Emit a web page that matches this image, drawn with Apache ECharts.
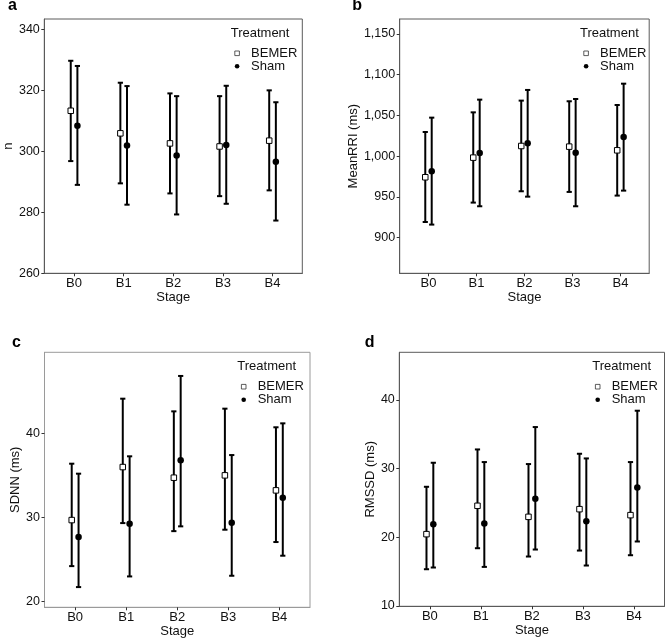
<!DOCTYPE html>
<html><head><meta charset="utf-8">
<script src="https://cdn.jsdelivr.net/npm/echarts@6/dist/echarts.min.js"></script>
<style>html,body{margin:0;padding:0;background:#fff}#c{width:669px;height:642px}</style>
</head><body><div id="c"></div><script>
// ---- data ----
const stages = ['B0', 'B1', 'B2', 'B3', 'B4'];
const treatments = ['BEMER', 'Sham'];

// panel a: n
const nBemerMean = [313.3, 305.9, 302.6, 301.6, 303.5];
const nBemerLo   = [296.8, 289.5, 286.2, 285.3, 287.2];
const nBemerHi   = [329.7, 322.5, 319.0, 318.1, 320.0];
const nShamMean  = [308.4, 301.9, 298.6, 302.1, 296.6];
const nShamLo    = [289.0, 282.5, 279.3, 282.8, 277.3];
const nShamHi    = [328.0, 321.4, 318.1, 321.5, 316.1];
const nTicks     = [260, 280, 300, 320, 340];

// panel b: MeanRRI (ms)
const rriBemerMean = [974.1, 998.2, 1012.5, 1011.7, 1007.2];
const rriBemerLo   = [919.2, 943.0, 956.9, 956.1, 951.6];
const rriBemerHi   = [1029.7, 1053.8, 1068.2, 1067.4, 1062.8];
const rriShamMean  = [981.4, 1003.9, 1015.8, 1004.3, 1023.6];
const rriShamLo    = [916.0, 938.5, 950.3, 938.5, 957.7];
const rriShamHi    = [1047.3, 1069.4, 1081.3, 1070.2, 1089.0];
const rriTicks     = [900, 950, 1000, 1050, 1100, 1150];

// panel c: SDNN (ms)
const sdnnBemerMean = [29.70, 36.02, 34.75, 35.03, 33.24];
const sdnnBemerLo   = [24.21, 29.34, 28.38, 28.55, 27.08];
const sdnnBemerHi   = [36.42, 44.17, 42.66, 42.98, 40.76];
const sdnnShamMean  = [27.67, 29.26, 36.82, 29.38, 32.37];
const sdnnShamLo    = [21.71, 22.98, 28.95, 23.06, 25.45];
const sdnnShamHi    = [35.23, 37.30, 46.88, 37.45, 41.23];
const sdnnTicks     = [20, 30, 40];

// panel d: RMSSD (ms)
const rmssdBemerMean = [20.46, 24.59, 22.98, 24.10, 23.23];
const rmssdBemerLo   = [15.35, 18.41, 17.20, 18.07, 17.39];
const rmssdBemerHi   = [27.36, 32.80, 30.67, 32.17, 30.96];
const rmssdShamMean  = [21.92, 22.01, 25.61, 22.35, 27.26];
const rmssdShamLo    = [15.60, 15.69, 18.22, 15.89, 19.39];
const rmssdShamHi    = [30.86, 30.96, 36.06, 31.49, 38.44];
const rmssdTicks     = [10, 20, 30, 40];

// ---- layout ----
const FONT = '"Liberation Sans", Arial, Helvetica, sans-serif';
const TXT = '#111';
const DODGE = 0.067;

const panels = [
  { letter: 'a', name: 'n', grid: { left: 44.3, top: 19, width: 258, height: 254.3 },
    yMin: 260, yMax: 343.4, ticks: nTicks, nameGap: 23, border: '#5a5a5a',
    b: [nBemerMean, nBemerLo, nBemerHi], s: [nShamMean, nShamLo, nShamHi],
    letterPos: [8, 7], treat: [230.7, 34.3], legend: [234.4, 46.8] },
  { letter: 'b', name: 'MeanRRI (ms)', grid: { left: 399.7, top: 19, width: 249.5, height: 254.3 },
    yMin: 856.2, yMax: 1168.4, ticks: rriTicks, nameGap: 33, border: '#5a5a5a', comma: true,
    b: [rriBemerMean, rriBemerLo, rriBemerHi], s: [rriShamMean, rriShamLo, rriShamHi],
    letterPos: [352.3, 7], treat: [580, 34.3], legend: [583.4, 46.8] },
  { letter: 'c', name: 'SDNN (ms)', grid: { left: 44.5, top: 352.3, width: 265.5, height: 255 },
    yMin: 19.3, yMax: 49.7, ticks: sdnnTicks, nameGap: 19, border: '#9a9a9a',
    b: [sdnnBemerMean, sdnnBemerLo, sdnnBemerHi], s: [sdnnShamMean, sdnnShamLo, sdnnShamHi],
    letterPos: [12, 344], treat: [237.3, 367.7], legend: [241, 380.2] },
  { letter: 'd', name: 'RMSSD (ms)', grid: { left: 399.3, top: 352.3, width: 265.2, height: 254 },
    yMin: 9.95, yMax: 46.95, ticks: rmssdTicks, nameGap: 19, border: '#5a5a5a',
    b: [rmssdBemerMean, rmssdBemerLo, rmssdBemerHi], s: [rmssdShamMean, rmssdShamLo, rmssdShamHi],
    letterPos: [364.7, 344], treat: [592.3, 367.3], legend: [595, 380.2] }
];

const grid = [], xAxis = [], yAxis = [], series = [], legend = [], graphic = [];
const idx = stages.map((_, i) => i);

function errRender(params, api) {
  const x = api.value(0), lo = api.value(1), hi = api.value(2);
  const pLo = api.coord([x, lo]), pHi = api.coord([x, hi]);
  const cap = 2.6;
  const st = { stroke: '#000', lineWidth: 2, fill: null };
  return { type: 'group', children: [
    { type: 'line', shape: { x1: pLo[0], y1: pLo[1], x2: pHi[0], y2: pHi[1] }, style: st },
    { type: 'line', shape: { x1: pHi[0] - cap, y1: pHi[1], x2: pHi[0] + cap, y2: pHi[1] }, style: st },
    { type: 'line', shape: { x1: pLo[0] - cap, y1: pLo[1], x2: pLo[0] + cap, y2: pLo[1] }, style: st }
  ]};
}

panels.forEach((p, k) => {
  grid.push(Object.assign({ show: true, borderColor: p.border, borderWidth: 1, backgroundColor: '#fff' }, p.grid));
  xAxis.push({
    type: 'value', gridIndex: k, min: -0.6, max: 4.6, position: 'bottom',
    name: 'Stage', nameLocation: 'middle', nameGap: 17,
    nameTextStyle: { fontFamily: FONT, fontSize: 13, color: TXT },
    axisLine: { show: true, onZero: false, lineStyle: { color: p.border, width: 1 } },
    splitLine: { show: false },
    axisTick: { show: true, length: 3, lineStyle: { color: '#333', width: 1 }, customValues: idx },
    axisLabel: { customValues: idx, margin: 4, fontFamily: FONT, fontSize: 13, color: TXT,
      formatter: v => stages[Math.round(v)] }
  });
  yAxis.push({
    type: 'value', gridIndex: k, min: p.yMin, max: p.yMax, position: 'left',
    name: p.name, nameLocation: 'middle', nameGap: p.nameGap, nameRotate: 90,
    nameTextStyle: { fontFamily: FONT, fontSize: 13, color: TXT },
    axisLine: { show: true, onZero: false, lineStyle: { color: p.border, width: 1 } },
    splitLine: { show: false },
    axisTick: { show: true, length: 3, lineStyle: { color: '#333', width: 1 }, customValues: p.ticks },
    axisLabel: { customValues: p.ticks, margin: 4.5, fontFamily: FONT, fontSize: 12.5, color: TXT,
      formatter: v => p.comma ? Number(v).toLocaleString('en-US') : String(v) }
  });
  const errData = [];
  idx.forEach(i => {
    errData.push([i - DODGE, p.b[1][i], p.b[2][i]]);
    errData.push([i + DODGE, p.s[1][i], p.s[2][i]]);
  });
  series.push({ type: 'custom', xAxisIndex: k, yAxisIndex: k, renderItem: errRender,
    data: errData, silent: true, z: 2, encode: { x: 0, y: [1, 2] } });
  series.push({ name: 'BEMER', type: 'scatter', xAxisIndex: k, yAxisIndex: k, symbol: 'rect', symbolSize: 5.5,
    itemStyle: { color: '#fff', borderColor: '#000', borderWidth: 1, opacity: 1 }, z: 3, silent: true,
    data: idx.map(i => [i - DODGE, p.b[0][i]]) });
  series.push({ name: 'Sham', type: 'scatter', xAxisIndex: k, yAxisIndex: k, symbol: 'circle', symbolSize: 6.5,
    itemStyle: { color: '#000', borderColor: '#000', borderWidth: 0, opacity: 1 }, z: 3, silent: true,
    data: idx.map(i => [i + DODGE, p.s[0][i]]) });
  legend.push({
    data: [
      { name: treatments[0], itemStyle: { color: '#fff', borderColor: '#333', borderWidth: 0.8 } },
      { name: treatments[1], itemStyle: { color: '#000', borderWidth: 0 } }
    ],
    orient: 'vertical', left: p.legend[0], top: p.legend[1], padding: 0,
    itemWidth: 4.6, itemHeight: 4.6, itemGap: 0, selectedMode: false,
    textStyle: { fontFamily: FONT, fontSize: 13, color: TXT, lineHeight: 13, padding: [0, 0, 0, 6.7] }
  });
  graphic.push({ type: 'text', left: p.letterPos[0], top: p.letterPos[1] - 9, z: 10,
    style: { text: p.letter, font: 'bold 16px ' + FONT, fill: '#000' } });
  graphic.push({ type: 'text', left: p.treat[0], top: p.treat[1] - 7.5, z: 10,
    style: { text: 'Treatment', font: '13px ' + FONT, fill: TXT } });
});

const chart = echarts.init(document.getElementById('c'), null, { renderer: 'canvas' });
chart.setOption({ backgroundColor: '#fff', animation: false, grid, xAxis, yAxis, series, legend, graphic });
</script></body></html>
